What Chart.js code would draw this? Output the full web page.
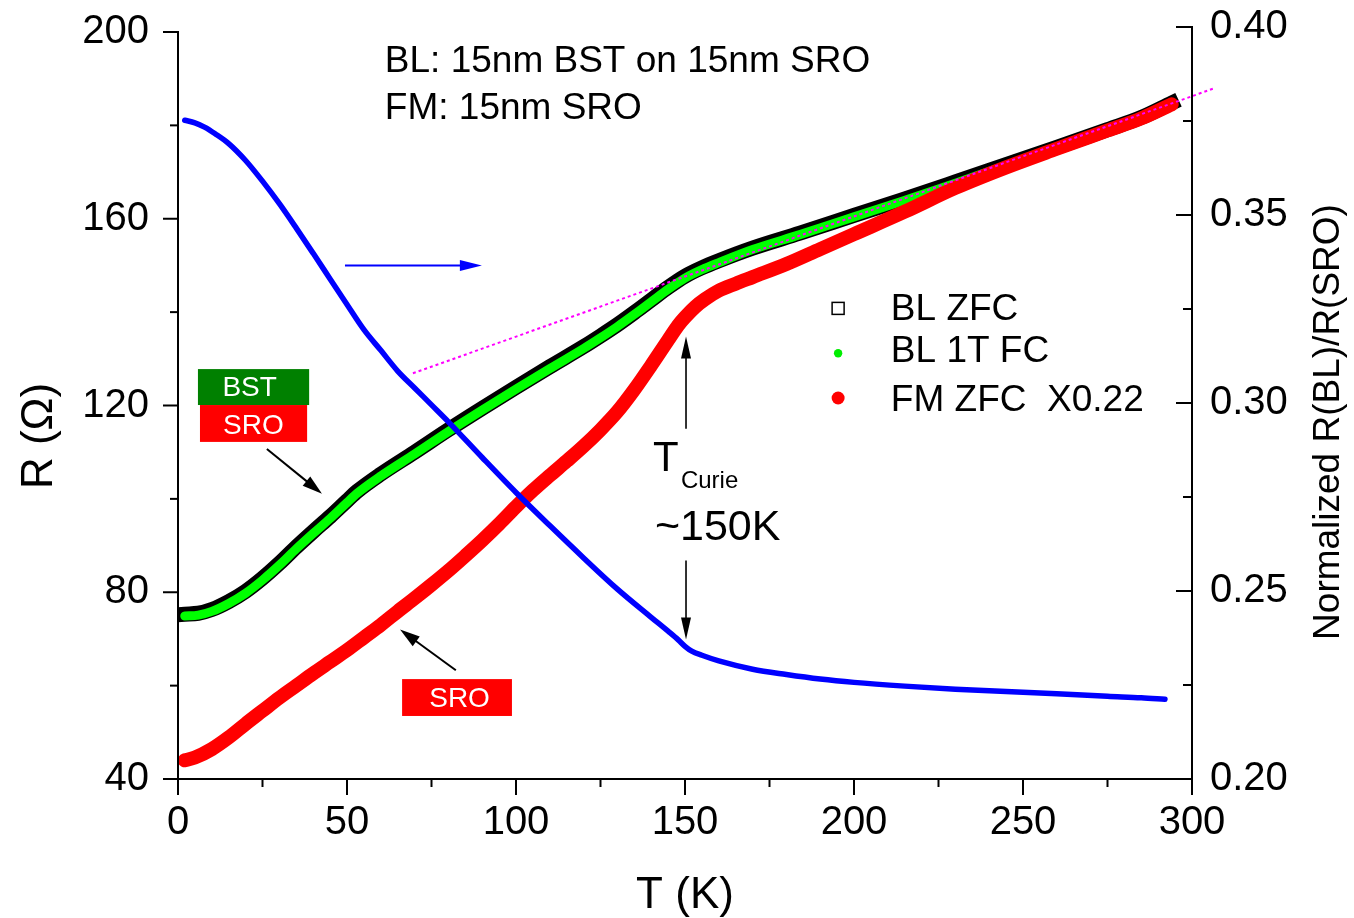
<!DOCTYPE html>
<html>
<head>
<meta charset="utf-8">
<title>R vs T</title>
<script src="https://cdn.jsdelivr.net/npm/chart.js@4.4.1/dist/chart.umd.min.js"></script>
<style>
  html, body { margin: 0; padding: 0; background: #fff; }
  #rt_wrap { width: 1354px; height: 918px; }
</style>
</head>
<body>
<div id="rt_wrap"><canvas id="rt_chart" width="1354" height="918"></canvas></div>
<script>
var FONT = '"Liberation Sans", Arial, Helvetica, sans-serif';

// BL ZFC (black open squares), left axis, Ohm
var tBlack = [2,6,10,15,20,25,30,35,40,45,50,53,60,70,80,90,100,110,120,125,130,135,140,145,150,155,160,170,184,200,214,230,245,260,275,285,294];
var rBlack = [75.3,75.5,76.3,78.0,80.2,83.0,86.2,89.7,93.0,96.2,99.6,101.6,105.3,110.0,114.8,119.4,123.9,128.3,132.6,134.9,137.3,139.9,142.6,145.3,147.7,149.5,151.0,153.7,156.9,160.7,164.0,167.9,171.6,175.3,179.1,181.7,184.8];

// BL 1T FC (green dots)
var tGreen = [2,6,10,15,20,25,30,35,40,45,50,53,60,70,80,90,100,110,120,125,130,135,140,145,150,155,160,170,184,200,214,230,245,260,275,285,292];
var rGreen = [74.9,75.1,75.9,77.6,79.8,82.6,85.8,89.3,92.6,95.8,99.2,101.2,104.9,109.6,114.4,119.0,123.5,127.9,132.2,134.5,136.9,139.5,142.2,144.9,147.3,149.1,150.6,153.4,156.6,160.4,163.7,167.6,171.4,175.1,178.9,181.5,184.1];

// FM ZFC x0.22 (red dots)
var tRed = [2,5,10,15,20,25,30,35,40,45,50,55,60,65,70,75,80,85,90,95,100,105,110,115,120,125,130,135,140,145,148,150,153,156,160,165,170,180,190,200,215,230,245,260,275,285,294];
var rRed = [44.0,44.6,46.4,48.9,51.8,54.6,57.4,60.0,62.6,65.1,67.6,70.3,73.0,75.9,78.7,81.6,84.6,87.8,91.1,94.6,98.3,101.8,105.0,108.1,111.3,114.8,118.7,123.4,128.6,134.0,137.2,138.9,141.1,142.8,144.6,146.1,147.5,150.3,153.5,156.7,161.5,166.6,171.0,175.0,178.9,181.5,184.5];

// Normalized R(BL)/R(SRO), right axis
var tBlue = [2,5,8,11,15,20,25,30,35,40,45,50,55,60,65,70,75,80,90,100,110,120,130,140,145,148,150,152,155,160,170,180,190,200,215,230,245,260,275,285,292];
var nBlue = [0.3752,0.3745,0.3733,0.3716,0.3690,0.3645,0.3590,0.3530,0.3465,0.3398,0.3330,0.3262,0.3195,0.3140,0.3085,0.3040,0.2995,0.2950,0.2855,0.2762,0.2674,0.2588,0.2505,0.2430,0.2393,0.2370,0.2353,0.2340,0.2329,0.2314,0.2292,0.2278,0.2266,0.2257,0.2247,0.2239,0.2233,0.2227,0.2220,0.2216,0.2212];

// high-T linear guide (magenta dots)
var tFit = [69.5, 306.8];
var rFit = [126.9, 188.0];

var seriesNames = ['BL ZFC', 'BL 1T FC', 'FM ZFC  X0.22'];

var xMajor = [0,50,100,150,200,250,300];
var xMinor = [25,75,125,175,225,275];
var yMajor = [40,80,120,160,200];
var yMinor = [60,100,140,180];
var y2Major = [0.20,0.25,0.30,0.35,0.40];
var y2Minor = [0.225,0.275,0.325,0.375];

function pairs(xs, ys) {
    var out = [];
    for (var i = 0; i < xs.length; i++) out.push({x: xs[i], y: ys[i]});
    return out;
}

function seg(ctx, x1, y1, x2, y2) {
    ctx.beginPath();
    ctx.moveTo(x1, y1);
    ctx.lineTo(x2, y2);
    ctx.stroke();
}

function arrow(ctx, x1, y1, x2, y2, color, headLen, headW, lw) {
    var a = Math.atan2(y2 - y1, x2 - x1);
    var c = Math.cos(a), s = Math.sin(a);
    ctx.strokeStyle = color;
    ctx.fillStyle = color;
    ctx.lineWidth = lw;
    seg(ctx, x1, y1, x2 - headLen * 0.8 * c, y2 - headLen * 0.8 * s);
    ctx.beginPath();
    ctx.moveTo(x2, y2);
    ctx.lineTo(x2 - headLen * c + headW / 2 * s, y2 - headLen * s - headW / 2 * c);
    ctx.lineTo(x2 - headLen * c - headW / 2 * s, y2 - headLen * s + headW / 2 * c);
    ctx.closePath();
    ctx.fill();
}

// keep the plot box fixed: no extra room for half labels
function fixBox(scale, w, h) {
    if (w) scale.width = w;
    if (h) scale.height = h;
    scale.paddingTop = 0;
    scale.paddingBottom = 0;
    scale.paddingLeft = 0;
    scale.paddingRight = 0;
}

var RtChart = {
    decor: {
        id: 'rt_decor',
        afterDatasetsDraw(chart) {
            var ctx = chart.ctx, area = chart.chartArea;
            var sx = chart.scales.x, sy = chart.scales.y, sy2 = chart.scales.y2;
            var px = function (t) { return sx.getPixelForValue(t); };
            var py = function (r) { return sy.getPixelForValue(r); };
            var py2 = function (n) { return sy2.getPixelForValue(n); };
            ctx.save();

            // axes + ticks
            ctx.strokeStyle = '#000';
            ctx.lineWidth = 2;
            ctx.lineCap = 'butt';
            seg(ctx, area.left, py(yMajor[yMajor.length - 1]) - 1, area.left, area.bottom + 1);
            seg(ctx, area.left - 1, area.bottom, area.right + 1, area.bottom);
            seg(ctx, area.right, py2(y2Major[y2Major.length - 1]) - 1, area.right, area.bottom);
            xMajor.forEach(function (v) { seg(ctx, px(v), area.bottom, px(v), area.bottom + 16); });
            xMinor.forEach(function (v) { seg(ctx, px(v), area.bottom, px(v), area.bottom + 8); });
            yMajor.forEach(function (v) { seg(ctx, area.left, py(v), area.left - 15, py(v)); });
            yMinor.forEach(function (v) { seg(ctx, area.left, py(v), area.left - 8, py(v)); });
            y2Major.forEach(function (v) { seg(ctx, area.right, py2(v), area.right - 16, py2(v)); });
            y2Minor.forEach(function (v) { seg(ctx, area.right, py2(v), area.right - 9, py2(v)); });

            // axis titles
            ctx.fillStyle = '#000';
            ctx.textBaseline = 'alphabetic';
            ctx.textAlign = 'center';
            ctx.font = '44px ' + FONT;
            ctx.fillText('T (K)', (area.left + area.right) / 2, 908);
            ctx.save();
            ctx.translate(52, 436);
            ctx.rotate(-Math.PI / 2);
            ctx.fillText('R (\u03A9)', 0, 0);
            ctx.restore();
            ctx.save();
            ctx.translate(1339, 422);
            ctx.rotate(-Math.PI / 2);
            ctx.font = '37px ' + FONT;
            ctx.fillText('Normalized R(BL)/R(SRO)', 0, 0);
            ctx.restore();

            // sample description
            ctx.textAlign = 'left';
            ctx.font = '37px ' + FONT;
            ctx.fillText('BL: 15nm BST on 15nm SRO', px(61.2), py(191.5));
            ctx.fillText('FM: 15nm SRO', px(61.2), py(181.4));

            // legend
            ctx.font = '37px ' + FONT;
            ctx.fillText(seriesNames[0], px(210.9), py(138.3));
            ctx.fillText(seriesNames[1], px(210.9), py(129.3));
            ctx.fillText(seriesNames[2], px(210.9), py(118.8));
            ctx.lineWidth = 1.5;
            ctx.strokeStyle = '#000';
            ctx.fillStyle = '#fff';
            ctx.fillRect(px(195.3) - 6, py(140.8) - 6, 12, 12);
            ctx.strokeRect(px(195.3) - 6, py(140.8) - 6, 12, 12);
            ctx.fillStyle = '#00ee00';
            ctx.beginPath(); ctx.arc(px(195.3), py(131.2), 4.2, 0, Math.PI * 2); ctx.fill();
            ctx.fillStyle = '#ff0000';
            ctx.beginPath(); ctx.arc(px(195.3), py(121.6), 6.5, 0, Math.PI * 2); ctx.fill();

            // layer labels
            ctx.fillStyle = '#008000';
            ctx.fillRect(px(5.9), py(127.8), px(38.8) - px(5.9), py(120.1) - py(127.8));
            ctx.fillStyle = '#ff0000';
            ctx.fillRect(px(6.5), py(120.1), px(38.2) - px(6.5), py(112.2) - py(120.1));
            ctx.fillRect(px(66.3), py(61.4), px(98.8) - px(66.3), py(53.5) - py(61.4));
            ctx.fillStyle = '#fff';
            ctx.textAlign = 'center';
            ctx.font = '28px ' + FONT;
            ctx.fillText('BST', px(21.2), py(122.0));
            ctx.fillText('SRO', px(22.3), py(113.9));
            ctx.fillText('SRO', px(83.3), py(55.4));

            // arrows
            arrow(ctx, px(26.3), py(110.7), px(42.6), py(101.1), '#000', 20, 12, 2);
            arrow(ctx, px(82.2), py(63.3), px(65.7), py(72.0), '#000', 20, 12, 2);
            arrow(ctx, px(49.4), py(150.0), px(89.9), py(150.0), '#0000ff', 22, 11, 2);
            arrow(ctx, px(150.3), py(115.0), px(150.3), py(134.8), '#000', 22, 10, 1.6);
            arrow(ctx, px(150.3), py(86.8), px(150.3), py(69.9), '#000', 22, 10, 1.6);

            // Curie temperature label
            ctx.fillStyle = '#000';
            ctx.textAlign = 'left';
            ctx.font = '42px ' + FONT;
            ctx.fillText('T', px(140.5), py(106.0));
            ctx.font = '24px ' + FONT;
            ctx.fillText('Curie', px(148.8), py(102.4));
            ctx.font = '43px ' + FONT;
            ctx.fillText('~150K', px(141.1), py(91.1));

            ctx.restore();
        }
    },

    init() {
        var ctx = document.getElementById('rt_chart').getContext('2d');
        var tickFont = {family: FONT, size: 40};
        new Chart(ctx, {
            type: 'line',
            data: {
                datasets: [
                    {label: 'fit', data: pairs(tFit, rFit), yAxisID: 'y', borderColor: '#ff00ff',
                        borderWidth: 2, borderDash: [3, 3], pointRadius: 0, clip: false, order: 0},
                    {label: 'norm', data: pairs(tBlue, nBlue), yAxisID: 'y2', borderColor: '#0000ff',
                        borderWidth: 5.5, pointRadius: 0, cubicInterpolationMode: 'monotone',
                        borderCapStyle: 'round', borderJoinStyle: 'round', order: 1},
                    {label: seriesNames[2], data: pairs(tRed, rRed), yAxisID: 'y', borderColor: '#ff0000',
                        borderWidth: 14, pointRadius: 0, cubicInterpolationMode: 'monotone',
                        borderCapStyle: 'round', borderJoinStyle: 'round', order: 2},
                    {label: seriesNames[1], data: pairs(tGreen, rGreen), yAxisID: 'y', borderColor: '#00ff00',
                        borderWidth: 9, pointRadius: 0, cubicInterpolationMode: 'monotone',
                        borderCapStyle: 'round', borderJoinStyle: 'round', order: 3},
                    {label: seriesNames[0], data: pairs(tBlack, rBlack), yAxisID: 'y', borderColor: '#000000',
                        borderWidth: 15, pointRadius: 0, cubicInterpolationMode: 'monotone',
                        borderCapStyle: 'square', borderJoinStyle: 'round', order: 4}
                ]
            },
            options: {
                responsive: false,
                animation: false,
                devicePixelRatio: 1,
                layout: {padding: {top: 27, left: 0, right: 0, bottom: 0}},
                plugins: {
                    legend: {display: false},
                    tooltip: {enabled: false}
                },
                scales: {
                    x: {
                        type: 'linear', position: 'bottom', min: 0, max: 300,
                        grid: {display: false, drawTicks: false},
                        border: {display: false},
                        afterBuildTicks(scale) { scale.ticks = xMajor.map(function (v) { return {value: v}; }); },
                        afterFit(scale) { fixBox(scale, 0, 139); },
                        ticks: {font: tickFont, color: '#000', padding: 20, maxRotation: 0,
                            callback: function (v) { return String(v); }}
                    },
                    y: {
                        type: 'linear', position: 'left', min: 40, max: 201.07,
                        grid: {display: false, drawTicks: false},
                        border: {display: false},
                        afterBuildTicks(scale) { scale.ticks = yMajor.map(function (v) { return {value: v}; }); },
                        afterFit(scale) { fixBox(scale, 178, 0); },
                        ticks: {font: tickFont, color: '#000', padding: 29,
                            callback: function (v) { return String(v); }}
                    },
                    y2: {
                        type: 'linear', position: 'right', min: 0.2, max: 0.4,
                        grid: {display: false, drawTicks: false},
                        border: {display: false},
                        afterBuildTicks(scale) { scale.ticks = y2Major.map(function (v) { return {value: v}; }); },
                        afterFit(scale) { fixBox(scale, 162, 0); },
                        ticks: {font: tickFont, color: '#000', padding: 18,
                            callback: function (v) { return v.toFixed(2); }}
                    }
                }
            },
            plugins: [RtChart.decor]
        });
    }
};

RtChart.init();
</script>
</body>
</html>
